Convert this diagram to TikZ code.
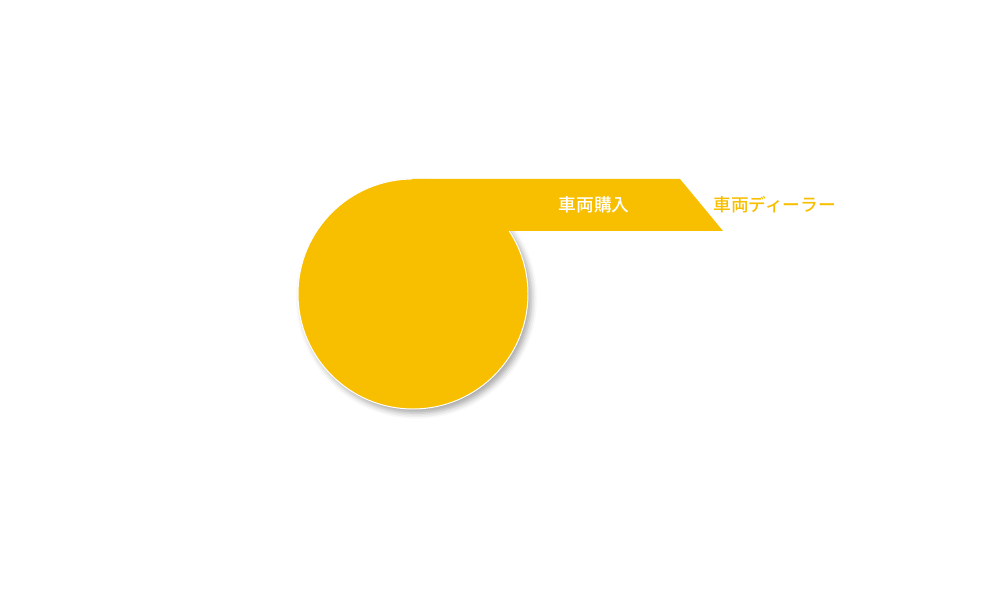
\documentclass[tikz,border=0pt]{standalone}
\usepackage{fontspec}
\setmainfont{Noto Sans CJK JP}[BoldFont={Noto Sans CJK JP Medium}]
\usetikzlibrary{shadows.blur}
\definecolor{amber}{HTML}{F8BF00}

\begin{document}
\begin{tikzpicture}[x=0.025cm,y=0.025cm,
    every node/.style={font=\bfseries\fontsize{12.6}{14}\selectfont,inner sep=0pt},
    disc/.style={fill=amber,draw=white,line width=0.7pt,
      blur shadow={shadow xshift=2.5pt,shadow yshift=-3pt,shadow blur radius=4pt,shadow opacity=35}},
    band/.style={fill=amber}]
  \useasboundingbox (0,0) rectangle (1000,600);
  % circle with the band on top
  \path[disc] (413,306) circle[radius=115];
  \path[band] (413,421) -- (680,421) -- (723,369) -- (400,369)
    -- (400,415) -- cycle;
  \node[text=white] (buy) at (594,395.5) {車両購入};
  \node[text=amber,anchor=west] (dealer) at (713,395.5) {車両ディーラー};
\end{tikzpicture}
\end{document}
